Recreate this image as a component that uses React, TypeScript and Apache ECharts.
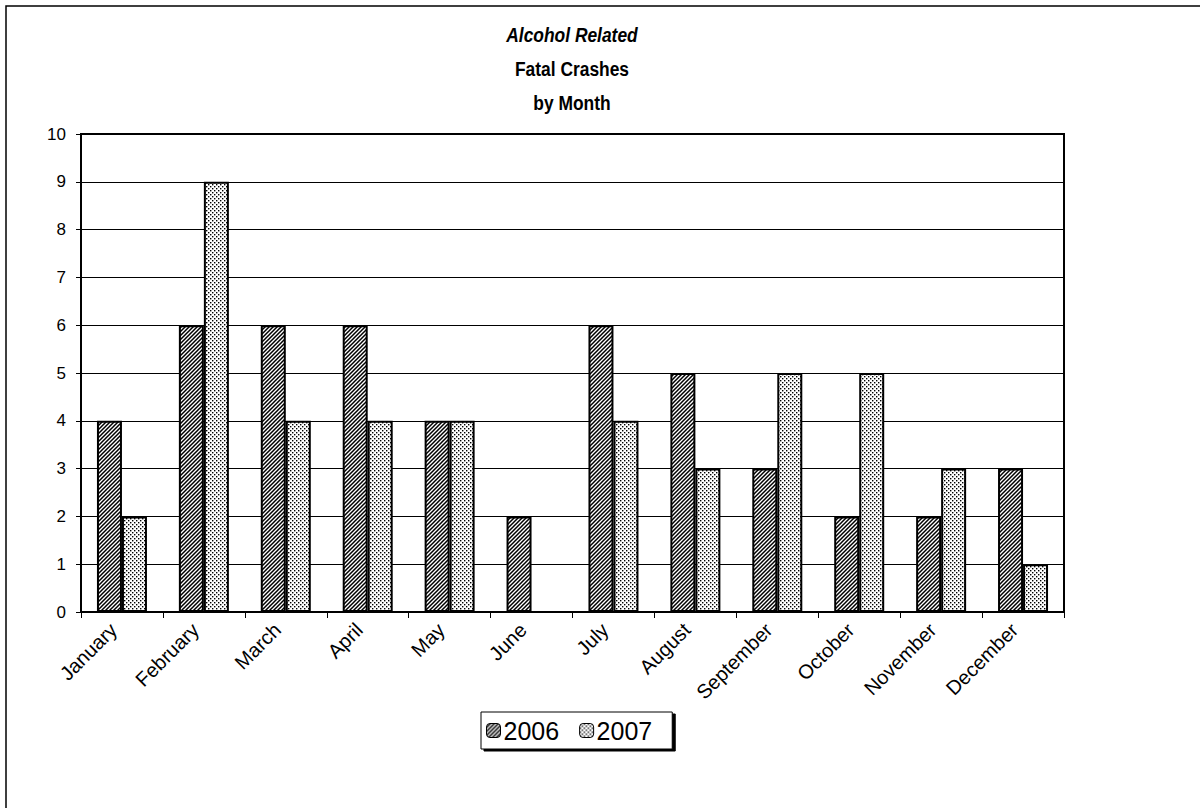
import React, { useEffect, useRef } from "react";
import * as echarts from "echarts";

const months = ["January", "February", "March", "April", "May", "June", "July", "August", "September", "October", "November", "December"];
const series2006 = [4, 6, 6, 6, 4, 2, 6, 5, 3, 2, 2, 3];
const series2007 = [2, 9, 4, 4, 4, 0, 4, 3, 5, 5, 3, 1];
const yTicks = [0, 10, 1]; // min, max, interval
const titleLines = ["Alcohol Related", "Fatal Crashes", "by Month"];

const FONT = "Arial, 'Liberation Sans', Helvetica, sans-serif";

const hatchSvg =
  "data:image/svg+xml;utf8," +
  encodeURIComponent(
    '<svg xmlns="http://www.w3.org/2000/svg" width="4" height="4"><rect width="4" height="4" fill="white"/><path d="M-1,1 L1,-1 M0,4 L4,0 M3,5 L5,3" stroke="black" stroke-width="1.5"/></svg>'
  );
const dotSvg =
  "data:image/svg+xml;utf8," +
  encodeURIComponent(
    '<svg xmlns="http://www.w3.org/2000/svg" width="4" height="4"><rect width="4" height="4" fill="white"/><rect x="0" y="0" width="1.4" height="1.4" fill="black"/><rect x="2" y="2" width="1.4" height="1.4" fill="black"/></svg>'
  );

export default function App() {
  const ref = useRef<HTMLDivElement>(null);
  useEffect(() => {
    document.body.style.margin = "0";
    if (!ref.current) return;
    const chart = echarts.init(ref.current, null, { renderer: "svg" });
    const hatch: any = { image: hatchSvg, repeat: "repeat", imageWidth: 4, imageHeight: 4 };
    const dots: any = { image: dotSvg, repeat: "repeat", imageWidth: 4, imageHeight: 4 };
    chart.setOption({
      animation: false,
      backgroundColor: "#ffffff",
      textStyle: { fontFamily: FONT, color: "#000" },
      graphic: [
        {
          type: "rect",
          shape: { x: 6, y: 6, width: 1300, height: 900 },
          style: { fill: "none", stroke: "#000", lineWidth: 1.5 },
          silent: true,
          z: 0,
        },
        ...titleLines.map((t, i) => ({
          type: "text",
          x: 572,
          y: 35 + i * 34,
          scaleX: 0.87,
          style: {
            text: t,
            fontFamily: FONT,
            fontSize: 20,
            fontWeight: "bold",
            fontStyle: i === 0 ? "italic" : "normal",
            fill: "#000",
            textAlign: "center",
            textVerticalAlign: "middle",
          },
          z: 10,
        })),
      ],
      grid: {
        left: 81,
        right: 136,
        top: 134,
        bottom: 196,
        show: true,
        borderColor: "#000",
        borderWidth: 2,
        containLabel: false,
      },
      legend: {
        left: 481,
        top: 712,
        orient: "horizontal",
        padding: [6, 20, 6, 5],
        itemGap: 20,
        itemWidth: 14,
        itemHeight: 14,
        itemStyle: { borderColor: "#000", borderWidth: 1 },
        backgroundColor: "#fff",
        borderColor: "#000",
        borderWidth: 1,
        shadowColor: "#000",
        shadowBlur: 0,
        shadowOffsetX: 3,
        shadowOffsetY: 2,
        textStyle: { fontFamily: FONT, fontSize: 25, color: "#000", padding: [0, 0, 0, -2] },
        data: ["2006", "2007"],
        z: 5,
      },
      xAxis: {
        type: "category",
        data: months,
        boundaryGap: true,
        axisLine: { lineStyle: { color: "#000", width: 2 } },
        axisTick: { show: true, length: 6, lineStyle: { color: "#000", width: 1 } },
        axisLabel: {
          rotate: 45,
          fontSize: 20,
          color: "#000",
          fontFamily: FONT,
          margin: 6,
          padding: [0, 12, 0, 0],
        },
        splitLine: { show: false },
      },
      yAxis: {
        type: "value",
        min: yTicks[0],
        max: yTicks[1],
        interval: yTicks[2],
        axisLine: { show: true, lineStyle: { color: "#000", width: 2 } },
        axisTick: { show: true, length: 5, lineStyle: { color: "#000", width: 1 } },
        axisLabel: { fontSize: 17, color: "#000", fontFamily: FONT, margin: 15 },
        splitLine: { show: true, lineStyle: { color: "#000", width: 1 } },
      },
      series: [
        {
          name: "2006",
          type: "bar",
          data: series2006,
          barWidth: 25,
          barGap: "0%",
          itemStyle: { color: hatch, borderColor: "#000", borderWidth: 2 },
        },
        {
          name: "2007",
          type: "bar",
          data: series2007,
          barWidth: 25,
          barGap: "0%",
          itemStyle: { color: dots, borderColor: "#000", borderWidth: 2 },
        },
      ],
    });
    return () => chart.dispose();
  }, []);
  return <div ref={ref} style={{ width: 1200, height: 808 }} />;
}
